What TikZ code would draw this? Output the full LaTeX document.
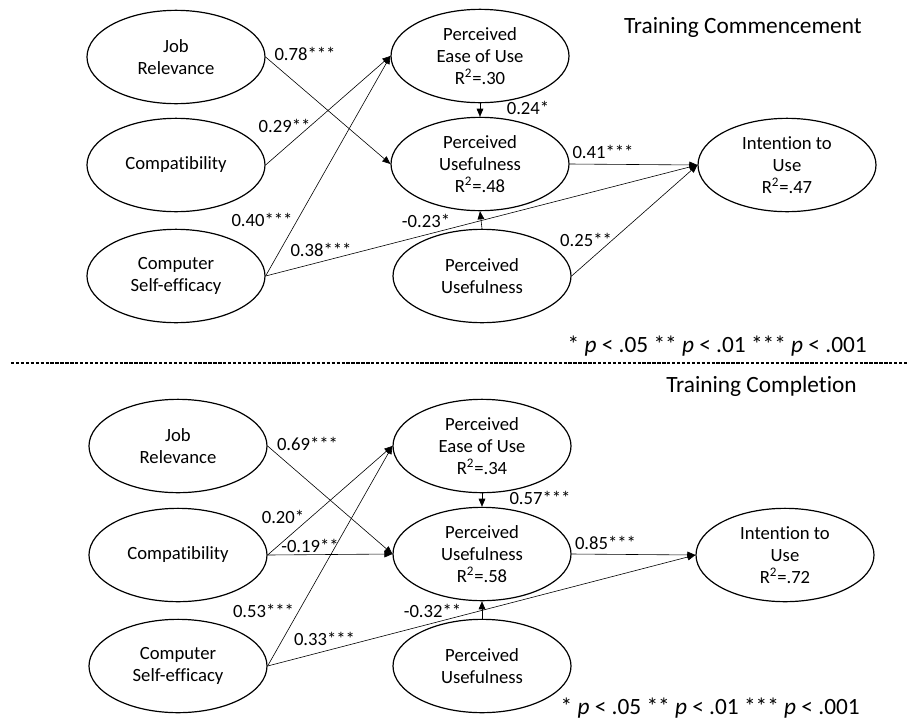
\documentclass[tikz,border=0pt]{standalone}
\usepackage{fontspec}
\setmainfont[Ligatures=NoCommon]{Carlito}
\usepackage{tikz}
\usetikzlibrary{shapes.geometric, arrows.meta}
\tikzset{
  lv/.style={ellipse, draw=black, line width=0.9pt, align=center, inner sep=0pt, minimum width=133.5pt, minimum height=70pt, font=\fontsize{14}{16.5}\selectfont},
  coef/.style={inner sep=0pt, font=\fontsize{14}{16.5}\selectfont},
  ttl/.style={inner sep=0pt, anchor=base east, font=\fontsize{17.5}{20}\selectfont},
  arr/.style={-{Triangle[length=6pt, width=5pt]}, line width=0.45pt, draw=black},
  sep/.style={draw=black, line width=0.8pt, dash pattern=on 2.5pt off 1.2pt},
}
\newcommand{\rsq}[1]{R\textsuperscript{2}=.#1}
\newcommand{\sigkey}{* \textit{p} < .05 ** \textit{p} < .01 *** \textit{p} < .001}

\begin{document}
\begin{tikzpicture}[x=0.75pt, y=-0.75pt]
  \useasboundingbox (0,0) rectangle (909,718);
  % training commencement
  \node[lv] (jrA) at (176,57) {Job\\Relevance};
  \node[lv] (cpA) at (176,165) {Compatibility};
  \node[lv] (cseA) at (176,276) {Computer\\Self-efficacy};
  \node[lv] (peouA) at (480,56) {Perceived\\Ease of Use\\\rsq{30}};
  \node[lv] (puA) at (480,164) {Perceived\\Usefulness\\\rsq{48}};
  \node[lv] (pvA) at (482,276) {Perceived\\Usefulness};
  \node[lv] (ituA) at (787,165) {Intention to\\Use\\\rsq{47}};
  \draw[arr] (jrA.east) -- (puA.west);
  \draw[arr] (cpA.east) -- (peouA.west);
  \draw[arr] (cseA.east) -- (peouA.west);
  \draw[arr] (cseA.east) -- (ituA.west);
  \draw[arr] (peouA.south) -- (puA.north);
  \draw[arr] (puA.east) -- (ituA.west);
  \draw[arr] (pvA.north) -- (puA.south);
  \draw[arr] (pvA.east) -- (ituA.west);
  \node[coef] (c1A) at (305,54) {0.78***};
  \node[coef] (c2A) at (284.5,126) {0.29**};
  \node[coef] (c3A) at (262,220) {0.40***};
  \node[coef] (c4A) at (321,250) {0.38***};
  \node[coef] (c5A) at (528,108) {0.24*};
  \node[coef] (c6A) at (603,152) {0.41***};
  \node[coef] (c7A) at (426,221) {-0.23*};
  \node[coef] (c8A) at (586,240) {0.25**};
  \node[ttl] (ttlA) at (862,33) {Training Commencement};
  \node[ttl] (keyA) at (867,352) {\sigkey};
  \draw[sep] (11,363) -- (909,363);
  % training completion
  \node[lv] (jrB) at (178,446) {Job\\Relevance};
  \node[lv] (cpB) at (178,555) {Compatibility};
  \node[lv] (cseB) at (178,666) {Computer\\Self-efficacy};
  \node[lv] (peouB) at (482,446) {Perceived\\Ease of Use\\\rsq{34}};
  \node[lv] (puB) at (482,554) {Perceived\\Usefulness\\\rsq{58}};
  \node[lv] (pvB) at (482,666) {Perceived\\Usefulness};
  \node[lv] (ituB) at (785,555) {Intention to\\Use\\\rsq{72}};
  \draw[arr] (jrB.east) -- (puB.west);
  \draw[arr] (cpB.east) -- (peouB.west);
  \draw[arr] (cpB.east) -- (puB.west);
  \draw[arr] (cseB.east) -- (peouB.west);
  \draw[arr] (cseB.east) -- (ituB.west);
  \draw[arr] (peouB.south) -- (puB.north);
  \draw[arr] (puB.east) -- (ituB.west);
  \draw[arr] (pvB.north) -- (puB.south);
  \node[coef] (c1B) at (307.5,444) {0.69***};
  \node[coef] (c2B) at (283,517) {0.20*};
  \node[coef] (c3B) at (310,546) {-0.19**};
  \node[coef] (c4B) at (263.5,611) {0.53***};
  \node[coef] (c5B) at (324.5,639) {0.33***};
  \node[coef] (c6B) at (540,498) {0.57***};
  \node[coef] (c7B) at (605.5,543) {0.85***};
  \node[coef] (c8B) at (432.5,611) {-0.32**};
  \node[ttl] (ttlB) at (857,392) {Training Completion};
  \node[ttl] (keyB) at (860,714) {\sigkey};
\end{tikzpicture}
\end{document}
